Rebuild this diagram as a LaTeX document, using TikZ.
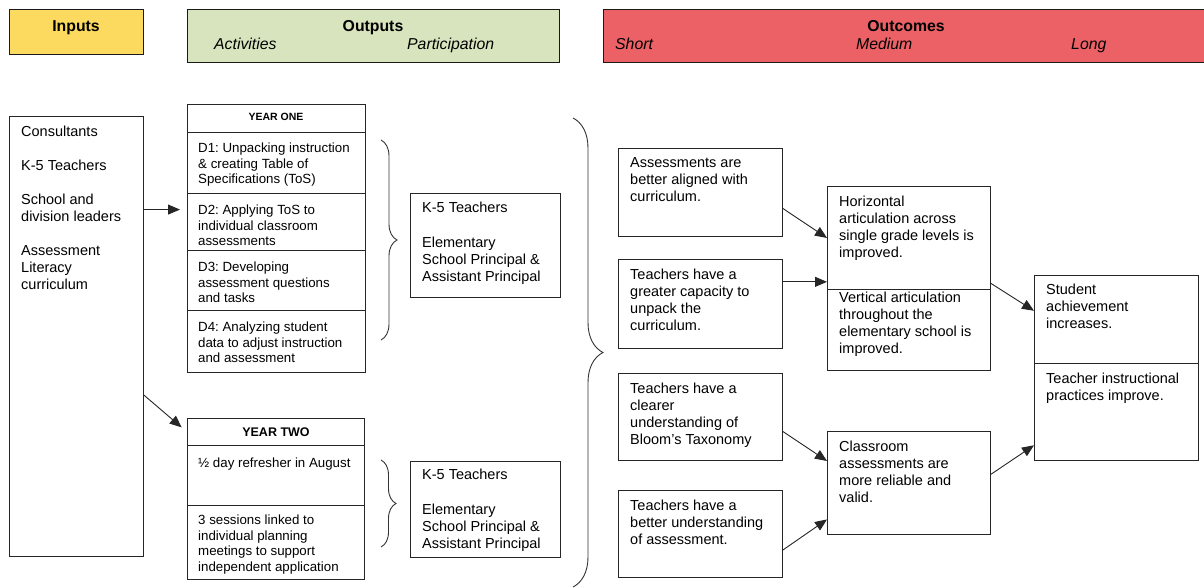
\documentclass[tikz,border=0pt]{standalone}
\usepackage{fontspec}
\setmainfont{Liberation Sans}
\usetikzlibrary{arrows.meta,decorations.pathreplacing}
\definecolor{inputcol}{HTML}{FCD95F}
\definecolor{outputcol}{HTML}{D7E4BD}
\definecolor{outcomecol}{HTML}{EB6165}
\frenchspacing

\begin{document}
\begin{tikzpicture}[x=1pt,y=-1pt,
	box/.style={draw=black!85, line width=0.9pt, anchor=north west, inner sep=0pt},
	head/.style={draw=black!90, line width=1.3pt, anchor=north west, inner sep=0pt},
	htxt/.style={inner sep=0pt, font=\fontsize{15.8}{18}\selectfont},
	txt/.style={anchor=north west, align=left, inner sep=0pt, yshift=-2pt, font=\fontsize{14.5}{17}\selectfont,
		execute at begin node={\rule{0pt}{12pt}}},
	small/.style={anchor=north west, align=left, inner sep=0pt, yshift=-2pt, font=\fontsize{13.3}{15.5}\selectfont,
		execute at begin node={\rule{0pt}{11pt}}},
	arr/.style={-{Triangle[length=12pt,width=10pt]}, line width=0.9pt, draw=black!85},
	curly/.style={decorate, decoration={brace, amplitude=#1}, line width=0.9pt, draw=black!80}]
		\useasboundingbox (0,0) rectangle (1204,588);
		
		% headers
		\node[head, fill=inputcol, minimum width=134, minimum height=45] (hin) at (9,9) {};
		\node[head, fill=outputcol, minimum width=372, minimum height=53] (hout) at (187,9) {};
		\node[head, fill=outcomecol, minimum width=602, minimum height=53] (hoc) at (603,9) {};
		\node[htxt, anchor=base] (tin) at (76,31.5) {\bfseries Inputs};
		\node[htxt, anchor=base] (tout) at (373,31.5) {\bfseries Outputs};
		\node[htxt, anchor=base west] (tact) at (214,50) {\itshape Activities};
		\node[htxt, anchor=base west] (tpart) at (407,50) {\itshape Participation};
		\node[htxt, anchor=base] (toc) at (906,31.5) {\bfseries Outcomes};
		\node[htxt, anchor=base west] (tshort) at (615,50) {\itshape Short};
		\node[htxt, anchor=base west] (tmed) at (856,50) {\itshape Medium};
		\node[htxt, anchor=base west] (tlong) at (1071,50) {\itshape Long};
		
		% inputs
		\node[box, minimum width=134, minimum height=440] (inp) at (9,116) {};
		\node[txt] (inptxt) at (21,123.5) {Consultants\\[17pt]K-5 Teachers\\[17pt]School and\\division leaders\\[17pt]Assessment\\Literacy\\curriculum};
		
		% year one
		\node[box, minimum width=178, minimum height=28] (y1t) at (187,104) {};
		\node[box, minimum width=178, minimum height=61] (d1) at (187,132) {};
		\node[box, minimum width=178, minimum height=57] (d2) at (187,193) {};
		\node[box, minimum width=178, minimum height=60] (d3) at (187,250) {};
		\node[box, minimum width=178, minimum height=62] (d4) at (187,310) {};
		\node[anchor=base, inner sep=0pt, font=\fontsize{10.5}{12}\selectfont\bfseries] (y1txt) at (276,121) {YEAR ONE};
		\node[small] (d1txt) at (198,141) {D1: Unpacking instruction\\\& creating Table of\\Specifications (ToS)};
		\node[small] (d2txt) at (198,203) {D2: Applying ToS to\\individual classroom\\assessments};
		\node[small] (d3txt) at (198,260) {D3: Developing\\assessment questions\\and tasks};
		\node[small] (d4txt) at (198,320) {D4: Analyzing student\\data to adjust instruction\\and assessment};
		
		% year two
		\node[box, minimum width=177, minimum height=27] (y2t) at (187,418) {};
		\node[box, minimum width=177, minimum height=60] (y2a) at (187,445) {};
		\node[box, minimum width=177, minimum height=74] (y2b) at (187,505) {};
		\node[anchor=base, inner sep=0pt, font=\fontsize{12.5}{14}\selectfont\bfseries] (y2txt) at (276,436.5) {YEAR TWO};
		\node[small] (y2atxt) at (198,454) {½ day refresher in August};
		\node[small] (y2btxt) at (198,513) {3 sessions linked to\\individual planning\\meetings to support\\independent application};
		
		% participation
		\node[box, minimum width=150, minimum height=104] (p1) at (410,193) {};
		\node[txt] (p1txt) at (422,199.5) {K-5 Teachers\\[18pt]Elementary\\School Principal \&\\Assistant Principal};
		\node[box, minimum width=150, minimum height=96] (p2) at (410,461) {};
		\node[txt] (p2txt) at (422,466.5) {K-5 Teachers\\[18pt]Elementary\\School Principal \&\\Assistant Principal};
		
		% braces
		\draw[curly=16pt] (381,140) -- (381,340);
		\draw[curly=15pt] (381,460) -- (381,547);
		\draw[curly=30pt] (573,118) -- (573,587);
		
		% short
		\node[box, minimum width=164, minimum height=88] (sa) at (618,148) {};
		\node[txt] (satxt) at (630,155.5) {Assessments are\\better aligned with\\curriculum.};
		\node[box, minimum width=164, minimum height=89] (sb) at (618,259) {};
		\node[txt] (sbtxt) at (630,266.5) {Teachers have a\\greater capacity to\\unpack the\\curriculum.};
		\node[box, minimum width=164, minimum height=87] (sc) at (618,373) {};
		\node[txt] (sctxt) at (630,380.5) {Teachers have a\\clearer\\understanding of\\Bloom’s Taxonomy};
		\node[box, minimum width=164, minimum height=87] (sd) at (618,490) {};
		\node[txt] (sdtxt) at (630,497.5) {Teachers have a\\better understanding\\of assessment.};
		
		% medium
		\node[box, minimum width=163, minimum height=103] (mh) at (827,186) {};
		\node[txt] (mhtxt) at (839,193.5) {Horizontal\\articulation across\\single grade levels is\\improved.};
		\node[box, minimum width=163, minimum height=81] (mv) at (827,289) {};
		\node[txt] (mvtxt) at (839,289.5) {Vertical articulation\\throughout the\\elementary school is\\improved.};
		\node[box, minimum width=163, minimum height=103] (mc) at (827,431) {};
		\node[txt] (mctxt) at (839,438.5) {Classroom\\assessments are\\more reliable and\\valid.};
		
		% long
		\node[box, minimum width=164, minimum height=88] (ls) at (1034,275) {};
		\node[txt] (lstxt) at (1046,281.5) {Student\\achievement\\increases.};
		\node[box, minimum width=164, minimum height=97] (lt) at (1034,363) {};
		\node[txt] (lttxt) at (1046,370.5) {Teacher instructional\\practices improve.};
		
		% arrows
		\draw[arr, shorten >=7pt] (inp.62) -- (inp.62 -| d2.west);
		\draw[arr, shorten >=7pt] (inp.-41) -- (y2t.west);
		\draw[arr] (sa.-11) -- (mh.west);
		\draw[arr] (sb.15) -- (sb.15 -| mh.west);
		\draw[arr] (sc.-10) -- (mc.165);
		\draw[arr] (sd.-11) -- (mc.204);
		\draw[arr] (mh.-29) -- (ls.174);
		\draw[arr] (mc.6) -- (lt.202);
		\end{tikzpicture}
\end{document}
